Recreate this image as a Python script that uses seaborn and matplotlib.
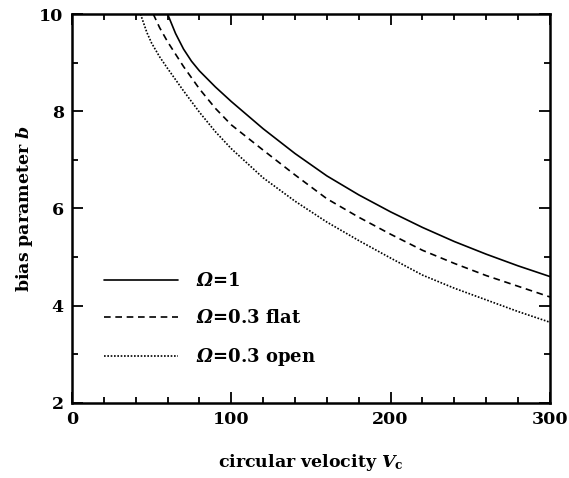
import matplotlib
matplotlib.use("Agg")
import matplotlib.pyplot as plt
from matplotlib.ticker import MultipleLocator
import pandas as pd
import seaborn as sns

# curves: bias parameter b vs circular velocity V_c
vc_omega1 = [60, 65, 70, 75, 80, 90, 100, 120, 140, 160, 180, 200, 220, 240, 260, 280, 300]
b_omega1 = [10.0, 9.60, 9.28, 9.03, 8.83, 8.50, 8.20, 7.64, 7.13, 6.67, 6.28, 5.93, 5.61,
            5.32, 5.06, 4.82, 4.60]

vc_flat = [51, 55, 60, 70, 80, 90, 100, 120, 140, 160, 180, 200, 220, 240, 260, 280, 300]
b_flat = [10.0, 9.72, 9.43, 8.92, 8.46, 8.06, 7.72, 7.20, 6.69, 6.20, 5.82, 5.47, 5.14,
          4.87, 4.62, 4.40, 4.18]

vc_open = [43, 47, 50, 55, 60, 70, 80, 90, 100, 120, 140, 160, 180, 200, 220, 240, 260, 280, 300]
b_open = [10.0, 9.62, 9.40, 9.12, 8.88, 8.42, 7.98, 7.58, 7.23, 6.63, 6.15, 5.72, 5.34,
          4.98, 4.63, 4.36, 4.12, 3.88, 3.66]

# \mathsf is mapped to an italic face below so the Omega comes out slanted
labels = [r'$\mathsf{Ω}$=1', r'$\mathsf{Ω}$=0.3 flat', r'$\mathsf{Ω}$=0.3 open']

sns.set_style("ticks")
plt.rcParams['font.family'] = ['DejaVu Serif']
plt.rcParams['font.weight'] = 'bold'
plt.rcParams['axes.labelweight'] = 'bold'
for key in ['text.color', 'axes.labelcolor', 'xtick.color', 'ytick.color', 'axes.edgecolor']:
    plt.rcParams[key] = 'black'
plt.rcParams['mathtext.fontset'] = 'custom'
plt.rcParams['mathtext.rm'] = 'DejaVu Serif:bold'
plt.rcParams['mathtext.it'] = 'DejaVu Serif:italic:bold'
plt.rcParams['mathtext.bf'] = 'DejaVu Serif:bold'
plt.rcParams['mathtext.sf'] = 'DejaVu Serif:italic:bold'

fig = plt.figure(figsize=(5.69, 4.78), dpi=100)
ax = fig.add_axes([0.1265, 0.157, 0.84, 0.8137])

series = [(vc_omega1, b_omega1, '-', labels[0]),
          (vc_flat, b_flat, (0, (4, 2.8)), labels[1]),
          (vc_open, b_open, (0, (1, 1)), labels[2])]
for vc, b, ls, lab in series:
    df = pd.DataFrame({'vc': vc, 'b': b})
    sns.lineplot(data=df, x='vc', y='b', ax=ax, color='black', linestyle=ls,
                 linewidth=1.2, label=lab)

ax.set_xlim(0, 300)
ax.set_ylim(2, 10)
ax.xaxis.set_major_locator(MultipleLocator(100))
ax.xaxis.set_minor_locator(MultipleLocator(20))
ax.yaxis.set_major_locator(MultipleLocator(2))
ax.yaxis.set_minor_locator(MultipleLocator(1))
ax.tick_params(which='both', direction='in', top=True, right=True, width=1.3,
               labelsize=12.5)
ax.tick_params(which='major', length=8, pad=6)
ax.tick_params(which='minor', length=4)
for s in ax.spines.values():
    s.set_linewidth(1.8)

ax.set_xlabel(r'circular velocity $\mathit{V}_{\mathbf{c}}$', fontsize=12.5, labelpad=17)
ax.set_ylabel(r'bias parameter $\mathit{b}$', fontsize=12.5, labelpad=3)

ax.legend(loc='lower left', bbox_to_anchor=(0.032, 0.048), frameon=False,
          fontsize=13, handlelength=4.1, handletextpad=1.0, labelspacing=1.04)

fig.savefig('out.png', dpi=100)
